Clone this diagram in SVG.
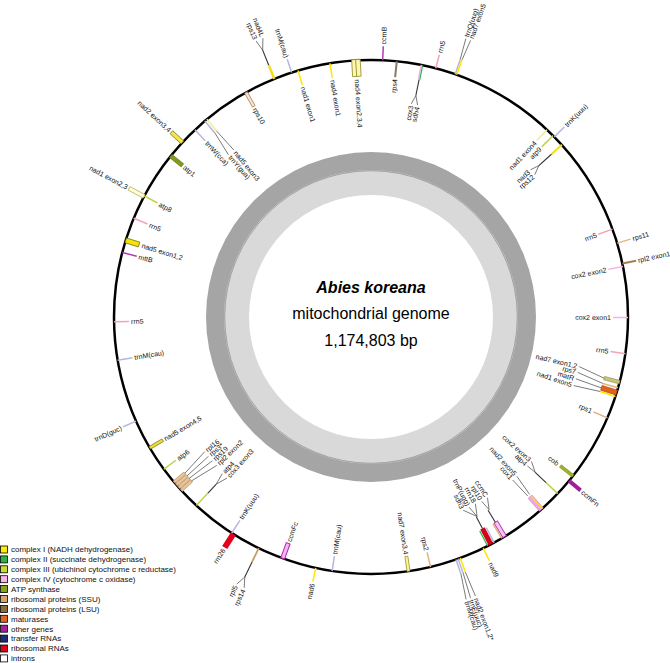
<svg xmlns="http://www.w3.org/2000/svg" width="670" height="663" viewBox="0 0 670 663">
<style>
.l{font-family:"Liberation Sans",Arial,Helvetica,sans-serif;font-size:7px;fill:#111;dominant-baseline:central}
.as{text-anchor:start}.ae{text-anchor:end}
.t{stroke:#B4B8DE;stroke-width:1.5}
.y{stroke:#FFE500;stroke-width:1.5}
.py{stroke:#F2EC98;stroke-width:1.5}
.r5{stroke:#F5A3B7;stroke-width:1.5}
.c4{stroke:#F6B0EC;stroke-width:1.5}
.at{stroke:#BDD34C;stroke-width:1.5}
.ss{stroke:#E2B382;stroke-width:1.5}
.lsu{stroke:#A57E4E;stroke-width:2}
.mg{stroke:#B03DB0;stroke-width:1.5}
.k{stroke:#222;stroke-width:0.6;fill:none}
.kd{stroke:#333;stroke-width:1.1}
.lg{font-family:"Liberation Sans",Arial,Helvetica,sans-serif;font-size:8px;fill:#111}
.lb{stroke:#000;stroke-width:0.8}
.ti{font-family:"Liberation Sans",Arial,Helvetica,sans-serif;font-size:16px;fill:#000;text-anchor:middle}
</style>

<g id="gc-ring">
<circle cx="371" cy="317" r="165" fill="#A5A5A5"/>
<circle cx="371" cy="317" r="147" fill="#D9D9D9"/>
<circle cx="371" cy="317" r="146.3" fill="none" stroke="#666" stroke-width="0.5"/>
<circle cx="371" cy="317" r="122" fill="#FFFFFF"/>
</g>

<g id="title">
<text class="ti" x="371" y="293" font-weight="bold" font-style="italic">Abies koreana</text>
<text class="ti" x="371" y="319">mitochondrial genome</text>
<text class="ti" x="371" y="346" font-size="15">1,174,803 bp</text>
</g>

<g id="genome-circle"><circle cx="371" cy="317" r="257" fill="none" stroke="#000" stroke-width="2.5"/></g>

<!-- single features -->
<g id="trnM-cau-1" transform="rotate(-18 371 317)"><line class="t" x1="371" y1="60" x2="371" y2="46"/><text class="l ae" transform="rotate(90 371 44)" x="371" y="44">trnM(cau)</text></g>
<g id="nad1-exon1" transform="rotate(-16.5 371 317)"><line class="y" x1="371" y1="60" x2="371" y2="75"/><text class="l as" transform="rotate(90 371 77)" x="371" y="77">nad1 exon1</text></g>
<g id="nad4-exon1" transform="rotate(-9.2 371 317)"><line class="y" x1="371" y1="60" x2="371" y2="75"/><text class="l as" transform="rotate(90 371 77)" x="371" y="77">nad4 exon1</text></g>
<g id="nad4-exon234" transform="rotate(-3.3 371 317)"><rect x="366.5" y="59" width="4.5" height="17" fill="#FFF7B0" stroke="#8E8A2A" stroke-width="0.8"/><rect x="370.5" y="59" width="4.5" height="17" fill="#FFF7B0" stroke="#8E8A2A" stroke-width="0.8"/><text class="l as" transform="rotate(90 371 79)" x="371" y="79">nad4 exon2,3,4</text></g>
<g id="ccmB" transform="rotate(2.6 371 317)"><line class="mg" x1="371" y1="60" x2="371" y2="46"/><text class="l as" transform="rotate(-90 371 44)" x="371" y="44">ccmB</text></g>
<g id="rps4" transform="rotate(5.75 371 317)"><line stroke="#8B7A66" stroke-width="2" x1="371" y1="60" x2="371" y2="76"/><text class="l ae" transform="rotate(-90 371 78)" x="371" y="78">rps4</text></g>
<g id="rrn5-1" transform="rotate(14.6 371 317)"><line class="r5" x1="371" y1="60" x2="371" y2="46"/><text class="l as" transform="rotate(-90 371 44)" x="371" y="44">rrn5</text></g>
<g id="nad1-exon4" transform="rotate(43.2 371 317)"><line class="py" x1="371" y1="60" x2="371" y2="75"/><text class="l ae" transform="rotate(-90 371 77)" x="371" y="77">nad1 exon4</text></g>
<g id="atp9" transform="rotate(45.1 371 317)"><line class="at" x1="371" y1="60" x2="371" y2="76"/><text class="l ae" transform="rotate(-90 371 78)" x="371" y="78">atp9</text></g>
<g id="trnK-uuu-1" transform="rotate(45.5 371 317)"><line class="t" x1="371" y1="60" x2="371" y2="46"/><text class="l as" transform="rotate(-90 371 44)" x="371" y="44">trnK(uuu)</text></g>
<g id="rrn5-2" transform="rotate(70 371 317)"><line class="r5" x1="371" y1="60" x2="371" y2="75"/><text class="l ae" transform="rotate(-90 371 77)" x="371" y="77">rrn5</text></g>
<g id="rps11" transform="rotate(73.3 371 317)"><line class="ss" x1="371" y1="60" x2="371" y2="46"/><text class="l as" transform="rotate(-90 371 44)" x="371" y="44">rps11</text></g>
<g id="rpl2-exon1" transform="rotate(78 371 317)"><line class="lsu" x1="371" y1="60" x2="371" y2="46"/><text class="l as" transform="rotate(-90 371 44)" x="371" y="44">rpl2 exon1</text></g>
<g id="cox2-exon2" transform="rotate(78.65 371 317)"><line class="c4" x1="371" y1="60" x2="371" y2="75"/><text class="l ae" transform="rotate(-90 371 77)" x="371" y="77">cox2 exon2</text></g>
<g id="cox2-exon1" transform="rotate(90.1 371 317)"><line class="c4" x1="371" y1="60" x2="371" y2="75"/><text class="l ae" transform="rotate(-90 371 77)" x="371" y="77">cox2 exon1</text></g>
<g id="rrn5-3" transform="rotate(98.2 371 317)"><line class="r5" x1="371" y1="60" x2="371" y2="75"/><text class="l ae" transform="rotate(-90 371 77)" x="371" y="77">rrn5</text></g>
<g id="rps1" transform="rotate(113.1 371 317)"><line class="ss" x1="371" y1="60" x2="371" y2="75"/><text class="l ae" transform="rotate(-90 371 77)" x="371" y="77">rps1</text></g>
<g id="cob" transform="rotate(128.2 371 317)"><rect x="369.5" y="60" width="3" height="16" fill="#A1B22C" stroke="#7E8C1E" stroke-width="0.6"/><text class="l ae" transform="rotate(-90 371 79)" x="371" y="79">cob</text></g>
<g id="ccmFn" transform="rotate(129.6 371 317)"><rect x="369" y="45" width="4" height="15" fill="#9D1E99"/><text class="l as" transform="rotate(-90 371 43)" x="371" y="43">ccmFn</text></g>
<g id="nad9" transform="rotate(154.1 371 317)"><line class="y" x1="371" y1="60" x2="371" y2="46"/><text class="l as" transform="rotate(-90 371 44)" x="371" y="44">nad9</text></g>
<g id="rps2" transform="rotate(166.6 371 317)"><line class="ss" x1="371" y1="60" x2="371" y2="75"/><text class="l ae" transform="rotate(-90 371 77)" x="371" y="77">rps2</text></g>
<g id="nad7-exon34" transform="rotate(171.6 371 317)"><rect x="369.5" y="60" width="3" height="15" fill="#FFF39A" stroke="#8E8A22" stroke-width="0.7"/><text class="l ae" transform="rotate(-90 371 77)" x="371" y="77">nad7 exon3,4</text></g>
<g id="trnM-cau-2" transform="rotate(-171.3 371 317)"><line class="t" x1="371" y1="60" x2="371" y2="75"/><text class="l as" transform="rotate(90 371 77)" x="371" y="77">trnM(cau)</text></g>
<g id="nad6" transform="rotate(-167.6 371 317)"><line class="y" x1="371" y1="60" x2="371" y2="46"/><text class="l ae" transform="rotate(90 371 44)" x="371" y="44">nad6</text></g>
<g id="ccmFc" transform="rotate(-159.9 371 317)"><rect x="369" y="60" width="4" height="16" fill="#F4B6F0" stroke="#B024B0" stroke-width="1"/><text class="l as" transform="rotate(90 371 78)" x="371" y="78">ccmFc</text></g>
<g id="rrn26" transform="rotate(-147.6 371 317)"><rect x="368" y="44" width="6" height="16" fill="#E3001B"/><text class="l ae" transform="rotate(90 371 42)" x="371" y="42">rrn26</text></g>
<g id="trnK-uuu-2" transform="rotate(-147.2 371 317)"><line class="t" x1="371" y1="60" x2="371" y2="75"/><text class="l as" transform="rotate(90 371 77)" x="371" y="77">trnK(uuu)</text></g>
<g id="atp6" transform="rotate(-126.3 371 317)"><line class="at" x1="371" y1="60" x2="371" y2="75"/><text class="l as" transform="rotate(90 371 77)" x="371" y="77">atp6</text></g>
<g id="nad5-exon45" transform="rotate(-120.6 371 317)"><rect x="369.5" y="60" width="3" height="15" fill="#EEDC3A" stroke="#7E761A" stroke-width="0.7"/><text class="l as" transform="rotate(90 371 77)" x="371" y="77">nad5 exon4,5</text></g>
<g id="trnD-guc" transform="rotate(-113.9 371 317)"><line class="t" x1="371" y1="60" x2="371" y2="46"/><text class="l ae" transform="rotate(90 371 44)" x="371" y="44">trnD(guc)</text></g>
<g id="trnM-cau-3" transform="rotate(-99.7 371 317)"><line class="t" x1="371" y1="60" x2="371" y2="75"/><text class="l as" transform="rotate(90 371 77)" x="371" y="77">trnM(cau)</text></g>
<g id="rrn5-4" transform="rotate(-91.05 371 317)"><line class="r5" x1="371" y1="60" x2="371" y2="75"/><text class="l as" transform="rotate(90 371 77)" x="371" y="77">rrn5</text></g>
<g id="mttB" transform="rotate(-75.45 371 317)"><line class="mg" stroke-width="2" x1="371" y1="60" x2="371" y2="75"/><text class="l as" transform="rotate(90 371 77)" x="371" y="77">mttB</text></g>
<g id="nad5-exon12" transform="rotate(-72.65 371 317)"><rect x="368.5" y="60" width="5" height="14" fill="#F6E300" stroke="#6E6610" stroke-width="0.7"/><text class="l as" transform="rotate(90 371 77)" x="371" y="77">nad5 exon1,2</text></g>
<g id="rrn5-5" transform="rotate(-67.4 371 317)"><line class="r5" x1="371" y1="60" x2="371" y2="75"/><text class="l as" transform="rotate(90 371 77)" x="371" y="77">rrn5</text></g>
<g id="nad1-exon23" transform="rotate(-62 371 317)"><rect x="369" y="43" width="4" height="17" fill="#FFFBE0" stroke="#C2B855" stroke-width="0.8"/><text class="l ae" transform="rotate(90 371 41)" x="371" y="41">nad1 exon2,3</text></g>
<g id="atp8" transform="rotate(-61.9 371 317)"><line class="at" x1="371" y1="60" x2="371" y2="75"/><text class="l as" transform="rotate(90 371 77)" x="371" y="77">atp8</text></g>
<g id="atp1" transform="rotate(-51.2 371 317)"><rect x="369" y="60" width="4" height="15" fill="#7F9B1C" stroke="#5D7210" stroke-width="0.6"/><text class="l as" transform="rotate(90 371 77)" x="371" y="77">atp1</text></g>
<g id="nad2-exon34" transform="rotate(-47.2 371 317)"><rect x="369" y="45" width="4" height="15" fill="#F6E64A" stroke="#6A6418" stroke-width="0.7"/><text class="l ae" transform="rotate(90 371 43)" x="371" y="43">nad2 exon3,4</text></g>
<g id="trnW-cca" transform="rotate(-43.25 371 317)"><line class="t" x1="371" y1="60" x2="371" y2="75"/><text class="l as" transform="rotate(90 371 77)" x="371" y="77">trnW(cca)</text></g>
<g id="rps10" transform="rotate(-29.1 371 317)"><rect x="369.5" y="60" width="3" height="16" fill="#F6E8D8" stroke="#A9865C" stroke-width="0.8"/><text class="l as" transform="rotate(90 371 78)" x="371" y="78">rps10</text></g>

<!-- clustered genes -->
<g id="nad4L-rps13" transform="rotate(-22.1 371 317)"><line stroke="#F2DC1A" stroke-width="2.5" x1="371" y1="60" x2="371" y2="45"/><line class="kd" x1="371" y1="45" x2="371" y2="29"/></g>
<g id="lbl-nad4L" transform="rotate(-21.2 371 317)"><text class="l ae" transform="rotate(90 371 16)" x="371" y="16">nad4L</text></g>
<g id="lbl-rps13" transform="rotate(-22.6 371 317)"><text class="l ae" transform="rotate(90 371 16)" x="371" y="16">rps13</text></g>

<g id="cox3-sdh4" transform="rotate(11.45 371 317)"><line class="c4" stroke-width="1.2" x1="370.3" y1="60" x2="370.3" y2="75"/><line stroke="#2DB24A" stroke-width="1.2" x1="371.7" y1="60" x2="371.7" y2="75"/><line class="kd" x1="371" y1="75" x2="371" y2="91"/></g>
<g id="lbl-cox3" transform="rotate(10.7 371 317)"><text class="l ae" transform="rotate(-90 371 102)" x="371" y="102">cox3</text></g>
<g id="lbl-sdh4" transform="rotate(12.4 371 317)"><text class="l ae" transform="rotate(-90 371 102)" x="371" y="102">sdh4</text></g>

<g id="trnQ-nad7e5" transform="rotate(19.3 371 317)"><line class="t" stroke-width="1.2" x1="370.2" y1="60" x2="370.2" y2="44"/><line class="y" stroke-width="1.2" x1="371.8" y1="60" x2="371.8" y2="44"/></g>
<g id="lbl-trnQ" transform="rotate(18.8 371 317)"><text class="l as" transform="rotate(-90 371 21)" x="371" y="21">trnQ(uug)</text></g>
<g id="lbl-nad7e5" transform="rotate(19.8 371 317)"><text class="l as" transform="rotate(-90 371 21)" x="371" y="21">nad7 exon5</text></g>

<g id="nad3-rps12" transform="rotate(47.95 371 317)"><line stroke="#F2DE1A" stroke-width="2" x1="371" y1="60" x2="371" y2="74"/><line class="kd" x1="371" y1="74" x2="371" y2="91"/></g>
<g id="lbl-nad3" transform="rotate(47.3 371 317)"><text class="l ae" transform="rotate(-90 371 102)" x="371" y="102">nad3</text></g>
<g id="lbl-rps12" transform="rotate(49 371 317)"><text class="l ae" transform="rotate(-90 371 102)" x="371" y="102">rps12</text></g>

<g id="nad7e12-cluster">
<g transform="rotate(104.7 371 317)"><rect x="369.2" y="60" width="3.5" height="16" fill="#C8C67C" stroke="#8E8C44" stroke-width="0.6"/></g>
<g transform="rotate(106 371 317)"><line class="ss" x1="371" y1="60" x2="371" y2="76"/></g>
<g transform="rotate(107.1 371 317)"><rect x="368.5" y="60" width="5" height="16" fill="#E2621B" stroke="#A9450E" stroke-width="0.6"/></g>
<g transform="rotate(108 371 317)"><line class="y" x1="371" y1="60" x2="371" y2="76"/></g>
</g>
<g id="lbl-nad7e12" transform="rotate(103.4 371 317)"><text class="l ae" transform="rotate(-90 371 105)" x="371" y="105">nad7 exon1,2</text></g>
<g id="lbl-rps7" transform="rotate(105 371 317)"><text class="l ae" transform="rotate(-90 371 105)" x="371" y="105">rps7</text></g>
<g id="lbl-matR" transform="rotate(106.8 371 317)"><text class="l ae" transform="rotate(-90 371 105)" x="371" y="105">matR</text></g>
<g id="lbl-nad1e5" transform="rotate(108.7 371 317)"><text class="l ae" transform="rotate(-90 371 105)" x="371" y="105">nad1 exon5</text></g>

<g id="cox2e3-atp4" transform="rotate(133.4 371 317)"><line class="at" x1="371" y1="60" x2="371" y2="76"/><line class="kd" x1="371" y1="76" x2="371" y2="91"/></g>
<g id="lbl-cox2e3" transform="rotate(132 371 317)"><text class="l ae" transform="rotate(-90 371 103)" x="371" y="103">cox2 exon3</text></g>
<g id="lbl-atp4-r" transform="rotate(133.6 371 317)"><text class="l ae" transform="rotate(-90 371 103)" x="371" y="103">atp4</text></g>

<g id="nad2e5-cox1" transform="rotate(138.5 371 317)"><rect x="368.5" y="60" width="5" height="17" fill="#F2A6E6" stroke="#C77CC0" stroke-width="0.6"/><line stroke="#FFE500" stroke-width="1.2" x1="369.6" y1="60" x2="369.6" y2="77"/></g>
<g id="lbl-nad2e5" transform="rotate(137.5 371 317)"><text class="l ae" transform="rotate(-90 371 103)" x="371" y="103">nad2 exon5</text></g>
<g id="lbl-cox1" transform="rotate(139 371 317)"><text class="l ae" transform="rotate(-90 371 103)" x="371" y="103">cox1</text></g>

<g id="ccmC-rpl10" transform="rotate(148.8 371 317)"><rect x="368.5" y="60" width="4" height="17" fill="#F6C4F0" stroke="#B43AAE" stroke-width="0.9"/><line class="ss" stroke-width="1" x1="373.8" y1="60" x2="373.8" y2="77"/><line class="kd" x1="371" y1="77" x2="371" y2="91"/></g>
<g id="lbl-ccmC" transform="rotate(147.2 371 317)"><text class="l ae" transform="rotate(-90 371 104)" x="371" y="104">ccmC</text></g>
<g id="lbl-rpl10" transform="rotate(149 371 317)"><text class="l ae" transform="rotate(-90 371 104)" x="371" y="104">rpl10</text></g>

<g id="rrn18-trnP-sdh3" transform="rotate(152.2 371 317)"><line class="t" stroke-width="1.2" x1="367.3" y1="60" x2="367.3" y2="77"/><rect x="368.5" y="60" width="5" height="18" fill="#D5001A"/><line stroke="#2DB24A" stroke-width="1.3" x1="374.6" y1="60" x2="374.6" y2="77"/><line class="kd" x1="371" y1="78" x2="371" y2="91"/></g>
<g id="lbl-rrn18" transform="rotate(150.8 371 317)"><text class="l ae" transform="rotate(-90 371 105)" x="371" y="105">rrn18</text></g>
<g id="lbl-trnP" transform="rotate(152.7 371 317)"><text class="l ae" transform="rotate(-90 371 105)" x="371" y="105">trnP(ugg)</text></g>
<g id="lbl-sdh3" transform="rotate(154.5 371 317)"><text class="l ae" transform="rotate(-90 371 105)" x="371" y="105">sdh3</text></g>

<g id="nad2e12-trnE-trnM">
<g transform="rotate(159.7 371 317)"><line class="y" stroke-width="1.2" x1="371" y1="60" x2="371" y2="45"/></g>
<g transform="rotate(160.2 371 317)"><line class="t" stroke-width="1.2" x1="371" y1="60" x2="371" y2="45"/></g>
<g transform="rotate(160.7 371 317)"><line class="t" stroke-width="1.2" x1="371" y1="60" x2="371" y2="45"/></g>
</g>
<g id="lbl-nad2e12" transform="rotate(159.5 371 317)"><text class="l as" transform="rotate(-90 371 17)" x="371" y="17">nad2 exon1,2*</text></g>
<g id="lbl-trnE" transform="rotate(160.5 371 317)"><text class="l as" transform="rotate(-90 371 17)" x="371" y="17">trnE(uuc)</text></g>
<g id="lbl-trnM4" transform="rotate(161.4 371 317)"><text class="l as" transform="rotate(-90 371 17)" x="371" y="17">trnM(cau)</text></g>

<g id="rpl5-rps14" transform="rotate(-154.1 371 317)"><line stroke="#C89A66" stroke-width="1.8" x1="371" y1="60" x2="371" y2="45"/><line class="kd" x1="371" y1="45" x2="371" y2="28"/></g>
<g id="lbl-rpl5" transform="rotate(-153.3 371 317)"><text class="l ae" transform="rotate(90 371 16)" x="371" y="16">rpl5</text></g>
<g id="lbl-rps14" transform="rotate(-154.9 371 317)"><text class="l ae" transform="rotate(90 371 16)" x="371" y="16">rps14</text></g>

<g id="atp4-cox3e3" transform="rotate(-137.2 371 317)"><line class="at" x1="371" y1="60" x2="371" y2="77"/><line class="kd" x1="371" y1="77" x2="371" y2="89"/></g>
<g id="lbl-atp4-l" transform="rotate(-136.5 371 317)"><text class="l as" transform="rotate(90 371 103)" x="371" y="103">atp4</text></g>
<g id="lbl-cox3e3" transform="rotate(-138.2 371 317)"><text class="l as" transform="rotate(90 371 103)" x="371" y="103">cox3 exon3</text></g>

<g id="rps-cluster">
<g transform="rotate(-130 371 317)"><rect x="369.5" y="60" width="3" height="14" fill="#E8C49A" stroke="#B8895A" stroke-width="0.6"/></g>
<g transform="rotate(-130.8 371 317)"><rect x="369.5" y="60" width="3" height="14" fill="#E8C49A" stroke="#B8895A" stroke-width="0.6"/></g>
<g transform="rotate(-131.6 371 317)"><rect x="369.5" y="60" width="3" height="14" fill="#E8C49A" stroke="#B8895A" stroke-width="0.6"/></g>
<g transform="rotate(-132.4 371 317)"><rect x="369.5" y="60" width="3" height="14" fill="#E8C49A" stroke="#B8895A" stroke-width="0.6"/></g>
</g>
<g id="lbl-rpl16" transform="rotate(-129 371 317)"><text class="l as" transform="rotate(90 371 105)" x="371" y="105">rpl16</text></g>
<g id="lbl-rps3" transform="rotate(-130.6 371 317)"><text class="l as" transform="rotate(90 371 105)" x="371" y="105">rps3*</text></g>
<g id="lbl-rps19" transform="rotate(-132.2 371 317)"><text class="l as" transform="rotate(90 371 105)" x="371" y="105">rps19</text></g>
<g id="lbl-rpl2e2" transform="rotate(-133.9 371 317)"><text class="l as" transform="rotate(90 371 105)" x="371" y="105">rpl2 exon2</text></g>

<g id="nad5e3-trnY">
<g transform="rotate(-39.7 371 317)"><line class="py" x1="371" y1="60" x2="371" y2="75"/></g>
<g transform="rotate(-40.3 371 317)"><line class="t" x1="371" y1="60" x2="371" y2="75"/></g>
</g>
<g id="lbl-nad5e3" transform="rotate(-39.4 371 317)"><text class="l as" transform="rotate(90 371 103)" x="371" y="103">nad5 exon3</text></g>
<g id="lbl-trnY" transform="rotate(-41.3 371 317)"><text class="l as" transform="rotate(90 371 103)" x="371" y="103">trnY(gua)</text></g>

<g id="connectors">
<polyline class="k" points="262.7,50.2 262.9,38.2"/>
<polyline class="k" points="262.7,50.2 256.1,41.0"/>
<polyline class="k" points="415.9,95.5 411.3,103.8"/>
<polyline class="k" points="415.9,95.5 417.6,105.1"/>
<polyline class="k" points="460.3,59.0 465.8,38.7"/>
<polyline class="k" points="462.1,59.7 470.6,40.4"/>
<polyline class="k" points="538.8,165.6 530.5,169.8"/>
<polyline class="k" points="538.8,165.6 534.8,174.6"/>
<polyline class="k" points="604.1,378.2 579.2,366.6"/>
<polyline class="k" points="602.7,383.4 577.7,372.4"/>
<polyline class="k" points="601.3,387.9 575.9,378.8"/>
<polyline class="k" points="600.2,391.5 573.7,385.6"/>
<polyline class="k" points="535.2,472.3 531.5,461.5"/>
<polyline class="k" points="535.2,472.3 527.4,466.0"/>
<polyline class="k" points="529.6,494.4 516.9,476.3"/>
<polyline class="k" points="527.8,496.1 512.7,480.0"/>
<polyline class="k" points="489.1,509.7 487.5,497.7"/>
<polyline class="k" points="489.1,509.7 481.7,501.3"/>
<polyline class="k" points="477.1,516.5 475.4,503.8"/>
<polyline class="k" points="477.1,516.5 469.1,507.2"/>
<polyline class="k" points="477.1,516.5 463.1,510.2"/>
<polyline class="k" points="465.4,572.1 475.4,596.1"/>
<polyline class="k" points="463.1,572.9 470.5,597.9"/>
<polyline class="k" points="460.9,573.7 466.1,599.4"/>
<polyline class="k" points="244.8,577.0 236.7,584.1"/>
<polyline class="k" points="244.8,577.0 244.2,587.8"/>
<polyline class="k" points="216.1,484.3 222.3,473.7"/>
<polyline class="k" points="216.1,484.3 227.0,478.0"/>
<polyline class="k" points="184.9,473.2 204.7,451.7"/>
<polyline class="k" points="187.1,475.8 208.5,456.3"/>
<polyline class="k" points="189.3,478.3 212.5,460.7"/>
<polyline class="k" points="191.5,480.9 216.8,465.4"/>
<polyline class="k" points="216.4,130.8 233.9,150.1"/>
<polyline class="k" points="214.5,132.4 228.4,154.7"/>
</g>

<g id="legend">
<rect class="lb" x="0.5" y="546" width="7" height="7" fill="#FFEC00"/><text class="lg" x="11" y="552.3">complex I (NADH dehydrogenase)</text>
<rect class="lb" x="0.5" y="555.9" width="7" height="7" fill="#2DB24A"/><text class="lg" x="11" y="562.2">complex II (succinate dehydrogenase)</text>
<rect class="lb" x="0.5" y="565.8" width="7" height="7" fill="#C5DE2C"/><text class="lg" x="11" y="572.1">complex III (ubichinol cytochrome c reductase)</text>
<rect class="lb" x="0.5" y="575.7" width="7" height="7" fill="#FBB4E8"/><text class="lg" x="11" y="582">complex IV (cytochrome c oxidase)</text>
<rect class="lb" x="0.5" y="585.6" width="7" height="7" fill="#8AA21A"/><text class="lg" x="11" y="591.9">ATP synthase</text>
<rect class="lb" x="0.5" y="595.5" width="7" height="7" fill="#D8A373"/><text class="lg" x="11" y="601.8">ribosomal proteins (SSU)</text>
<rect class="lb" x="0.5" y="605.4" width="7" height="7" fill="#8C6A3E"/><text class="lg" x="11" y="611.7">ribosomal proteins (LSU)</text>
<rect class="lb" x="0.5" y="615.3" width="7" height="7" fill="#E4641C"/><text class="lg" x="11" y="621.6">maturases</text>
<rect class="lb" x="0.5" y="625.2" width="7" height="7" fill="#A0219C"/><text class="lg" x="11" y="631.5">other genes</text>
<rect class="lb" x="0.5" y="635.1" width="7" height="7" fill="#1B2C7E"/><text class="lg" x="11" y="641.4">transfer RNAs</text>
<rect class="lb" x="0.5" y="645" width="7" height="7" fill="#E2001A"/><text class="lg" x="11" y="651.3">ribosomal RNAs</text>
<rect class="lb" x="0.5" y="654.9" width="7" height="7" fill="#FFFFFF"/><text class="lg" x="11" y="661.2">introns</text>
</g>
</svg>
